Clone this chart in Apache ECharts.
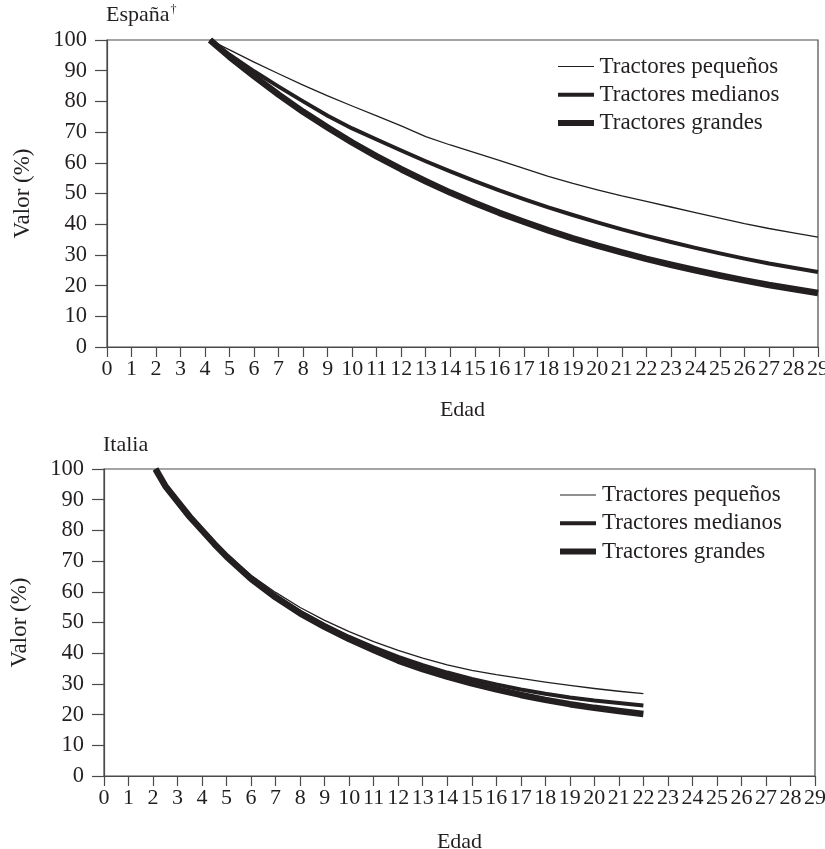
<!DOCTYPE html>
<html>
<head>
<meta charset="utf-8">
<script src="https://cdn.jsdelivr.net/npm/echarts@6/dist/echarts.min.js"></script>
<style>
html,body{margin:0;padding:0;background:#fff;}
#chart{width:825px;height:849px;}
</style>
</head>
<body>
<div id="chart"></div>
<script>
// ---- Data ----
const seriesNames = ["Tractores pequeños", "Tractores medianos", "Tractores grandes"];
const xTicks = [0,1,2,3,4,5,6,7,8,9,10,11,12,13,14,15,16,17,18,19,20,21,22,23,24,25,26,27,28,29];
const yTicks = [0,10,20,30,40,50,60,70,80,90,100];

// España
const spainAges   = [4.2, 5, 6, 7, 8, 9, 10, 11, 12, 13, 14, 15, 16, 17, 18, 19, 20, 21, 22, 23, 24, 25, 26, 27, 28, 29];
const spainSmall  = [100, 96.8, 92.8, 89.0, 85.3, 81.8, 78.5, 75.3, 72.0, 68.5, 65.8, 63.3, 60.8, 58.2, 55.6, 53.3, 51.2, 49.2, 47.4, 45.6, 43.8, 42.0, 40.2, 38.6, 37.2, 35.8];
const spainMedium = [100, 95.2, 89.8, 84.8, 80.0, 75.3, 71.2, 67.6, 64.0, 60.5, 57.2, 54.0, 51.0, 48.2, 45.5, 43.0, 40.6, 38.3, 36.2, 34.2, 32.3, 30.5, 28.8, 27.2, 25.8, 24.4];
const spainLarge  = [100, 94.5, 88.2, 82.2, 76.6, 71.5, 66.6, 62.1, 57.9, 54.0, 50.3, 46.9, 43.7, 40.8, 38.0, 35.4, 33.0, 30.8, 28.7, 26.8, 25.0, 23.3, 21.7, 20.2, 18.9, 17.6];

// Italia
const italyAges   = [2.1, 2.5, 3, 3.5, 4, 4.5, 5, 6, 7, 8, 9, 10, 11, 12, 13, 14, 15, 16, 17, 18, 19, 20, 21, 22];
const italySmall  = [100, 94.6, 89.5, 84.7, 80.5, 76.3, 72.3, 65.4, 59.8, 54.9, 50.7, 47.0, 43.8, 40.9, 38.4, 36.2, 34.4, 33.0, 31.8, 30.6, 29.5, 28.5, 27.6, 26.8];
const italyMedium = [100, 94.5, 89.4, 84.5, 80.2, 75.9, 71.8, 64.6, 58.6, 53.5, 49.2, 45.3, 41.9, 38.8, 36.1, 33.7, 31.6, 29.8, 28.2, 26.8, 25.6, 24.6, 23.8, 23.0];
const italyLarge  = [100, 94.5, 89.4, 84.4, 80.0, 75.6, 71.5, 64.2, 58.2, 53.0, 48.6, 44.6, 41.0, 37.6, 34.8, 32.4, 30.2, 28.2, 26.4, 24.8, 23.4, 22.2, 21.2, 20.2];

// ---- Styling ----
const FONT = "Liberation Serif";
const INK = "#231f20";
const AXIS = "#4a4a4a";
const widths = [1.3, 4, 6.5];
// legend swatches: bars of the series' thickness inside a 36x14 box
const legendIcons = [
  "path://M0,0M36,14M0,6.4H36V7.6H0Z",
  "path://M0,0M36,14M0,5H36V9H0Z",
  "path://M0,0M36,14M0,4H36V10H0Z"
];

function pairs(xs, ys){ return xs.map((x,i)=>[x, ys[i]]); }

function xAxisFor(gridIndex, gap){
  return {
    type: "value", gridIndex, min: xTicks[0], max: xTicks[xTicks.length-1], interval: 1,
    name: "Edad", nameLocation: "middle", nameGap: gap,
    nameTextStyle: {fontFamily: FONT, fontSize: 22, color: INK},
    axisLine: {show: true, lineStyle: {color: AXIS, width: 1.2}},
    axisTick: {show: true, length: 10, inside: false, lineStyle: {color: AXIS, width: 1.2}},
    axisLabel: {fontFamily: FONT, fontSize: 22, color: INK, margin: 11, hideOverlap: false},
    splitLine: {show: false}
  };
}
function yAxisFor(gridIndex){
  return {
    type: "value", gridIndex, min: yTicks[0], max: yTicks[yTicks.length-1], interval: 10,
    name: "Valor (%)", nameLocation: "middle", nameGap: 73, nameRotate: 90,
    nameTextStyle: {fontFamily: FONT, fontSize: 23, color: INK},
    axisLine: {show: true, lineStyle: {color: AXIS, width: 1.2}},
    axisTick: {show: true, length: 12, inside: false, lineStyle: {color: AXIS, width: 1.2}},
    axisLabel: {fontFamily: FONT, fontSize: 22.5, color: INK, margin: 20},
    splitLine: {show: false}
  };
}
function lineSeries(name, data, idx, axisIdx){
  return {
    type: "line", name, data, xAxisIndex: axisIdx, yAxisIndex: axisIdx,
    showSymbol: false, symbol: "none", smooth: false,
    lineStyle: {color: INK, width: widths[idx], join: "round"},
    itemStyle: {color: INK},
    emphasis: {disabled: true}, silent: true, animation: false
  };
}
function legendFor(left, top, w){
  return {
    show: true, orient: "vertical", left, top, padding: 0,
    itemWidth: w, itemHeight: 14, itemGap: 5.3,
    data: seriesNames.map((n,i)=>({name: n, icon: legendIcons[i]})),
    itemStyle: {color: INK, borderWidth: 0},
    textStyle: {fontFamily: FONT, fontSize: 23, color: INK},
    selectedMode: false
  };
}

const chart = echarts.init(document.getElementById("chart"), null, {renderer: "canvas"});
chart.setOption({
  backgroundColor: "#fff",
  animation: false,
  title: [
    {text: "España{s|†}", left: 106, top: 4, padding: 0,
     textStyle: {fontFamily: FONT, fontSize: 22, fontWeight: "normal", color: INK,
       rich: {s: {fontFamily: FONT, fontSize: 12, color: INK, verticalAlign: "top", padding: [0,0,8,1]}}}},
    {text: "Italia", left: 103, top: 434, padding: 0,
     textStyle: {fontFamily: FONT, fontSize: 22, fontWeight: "normal", color: INK}}
  ],
  legend: [legendFor(558, 55, 37), legendFor(560, 483.5, 38)],
  grid: [
    {left: 107, top: 40, width: 711, height: 307, show: true, borderColor: AXIS, borderWidth: 1.2,
     backgroundColor: "transparent", containLabel: false, outerBoundsMode: "none"},
    {left: 104, top: 469, width: 711, height: 307, show: true, borderColor: AXIS, borderWidth: 1.2,
     backgroundColor: "transparent", containLabel: false, outerBoundsMode: "none"}
  ],
  xAxis: [xAxisFor(0, 52), xAxisFor(1, 55)],
  yAxis: [yAxisFor(0), yAxisFor(1)],
  series: [
    lineSeries(seriesNames[0], pairs(spainAges, spainSmall), 0, 0),
    lineSeries(seriesNames[1], pairs(spainAges, spainMedium), 1, 0),
    lineSeries(seriesNames[2], pairs(spainAges, spainLarge), 2, 0),
    lineSeries(seriesNames[0], pairs(italyAges, italySmall), 0, 1),
    lineSeries(seriesNames[1], pairs(italyAges, italyMedium), 1, 1),
    lineSeries(seriesNames[2], pairs(italyAges, italyLarge), 2, 1)
  ]
});
</script>
</body>
</html>
